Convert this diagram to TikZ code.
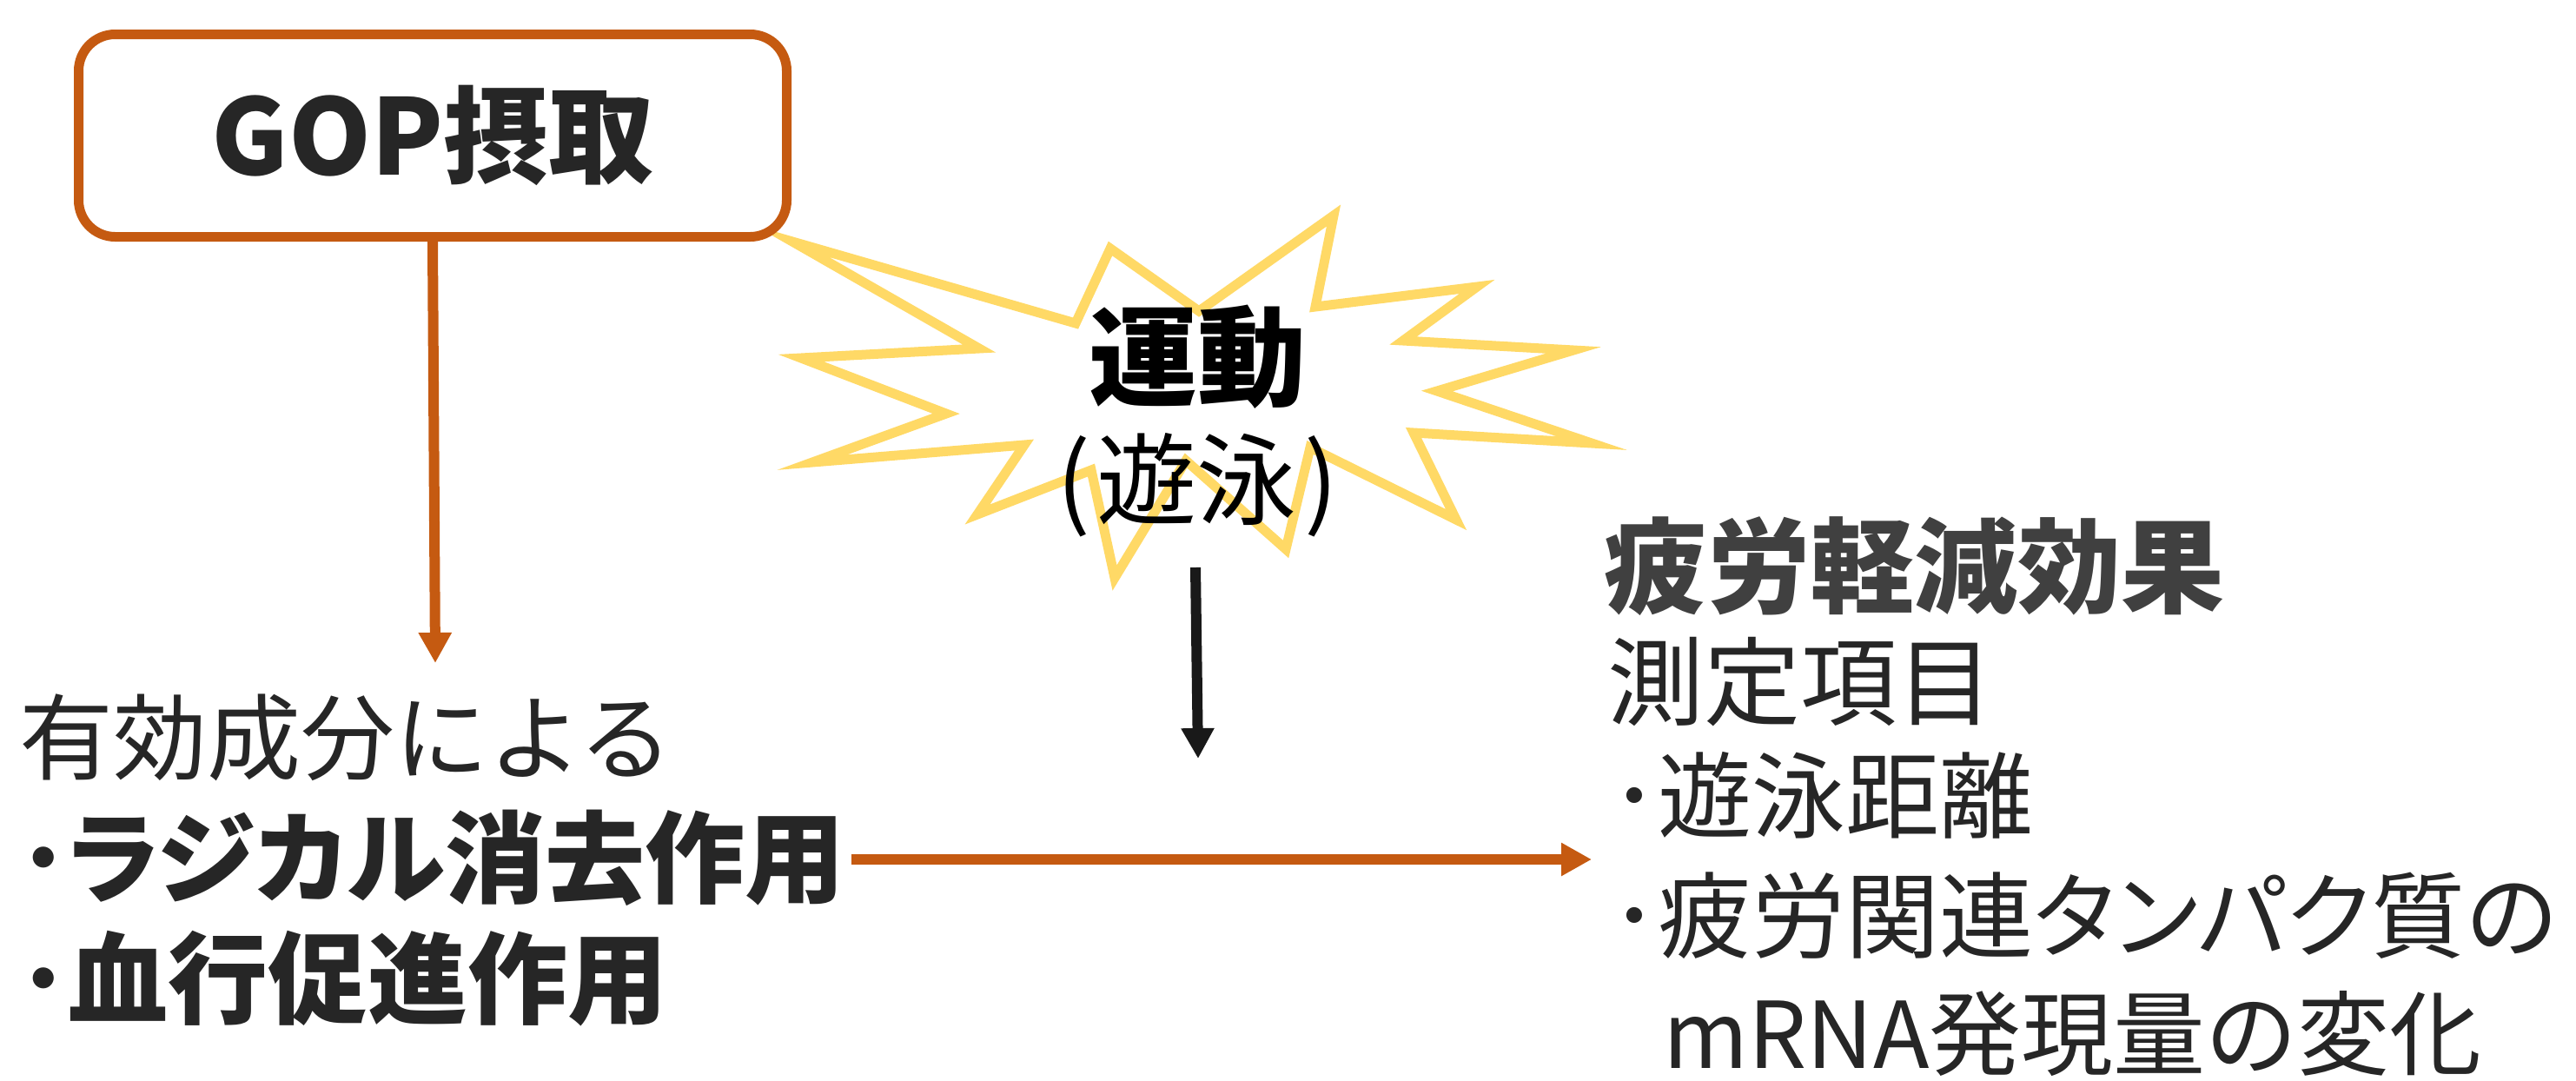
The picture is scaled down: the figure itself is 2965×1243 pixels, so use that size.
\documentclass[tikz,border=0pt]{standalone}
\usepackage{fontspec}
\setmainfont{Noto Sans CJK JP}
\usetikzlibrary{arrows.meta}
\definecolor{org}{HTML}{C55A11}
\definecolor{ylw}{HTML}{FFD966}
\definecolor{ink}{HTML}{262626}
\definecolor{gry}{HTML}{404040}
\tikzset{
  txt/.style={inner sep=0pt, outer sep=0pt, anchor=west, text=ink},
  fs/.style={font=\fontsize{#1}{#1}\selectfont},
  fsb/.style={font=\fontsize{#1}{#1}\selectfont\bfseries},
  gopbox/.style={draw=org, line width=11pt, fill=white, rounded corners=42pt,
    minimum width=815pt, minimum height=233pt, inner sep=0pt, text=ink},
  oarrow/.style={draw=org, line width=12pt, -{Triangle[length=35pt,width=36pt]}},
  karrow/.style={draw=black!90, line width=12pt, -{Triangle[length=35pt,width=36pt]}},
  burst/.style={draw=ylw, line width=11pt, fill=white, line join=miter, miter limit=30}
}
\newcommand{\paltkana}[1]{{\addfontfeatures{RawFeature=+palt}#1}}
\begin{document}
\begin{tikzpicture}[x=1pt,y=-1pt]
\useasboundingbox[fill=white] (0,0) rectangle (2965,1243);

% starburst
\draw[burst] (912,278) -- (1238,372) -- (1278,286) -- (1380,358) -- (1535,248)
  -- (1514,353) -- (1700,330) -- (1615,392) -- (1811,403) -- (1654,450)
  -- (1832,510) -- (1627,498) -- (1676,598) -- (1508,515) -- (1480,632)
  -- (1365,530) -- (1283,665) -- (1256,541) -- (1125,592) -- (1179,512)
  -- (935,532) -- (1089,476) -- (922,412) -- (1127,401) -- cycle;

% box
\node[gopbox, fsb=121] (gop) at (498,156) {\raisebox{-16pt}{GOP摂取}};

% starburst text
\node[txt, anchor=center, text=black, fsb=125] (undo) at (1378,411) {運動};
\node[txt, anchor=center, text=black, fs=115] (suiei) at (1378,558) {(\kern8pt 遊泳\kern8pt)};

% left text
\node[txt, fs=108] (yuko) at (22,849) {有効成分による};
\node[txt, fsb=115] (rad) at (21,987) {･\paltkana{ラジカル}消去作用};
\node[txt, fsb=115] (blood) at (21,1126) {･血行促進作用};

% right text
\node[txt, text=gry, fsb=119] (title) at (1846,652) {疲労軽減効果};
\node[txt, fs=111] (meas) at (1850,785) {測定項目};
\node[txt, fs=108] (m1) at (1854,915) {･遊泳距離};
\node[txt, fs=108] (m2) at (1854,1054) {･疲労関連\paltkana{タンパク}質の};
\node[txt, fs=106] (m3) at (1914,1190) {mRNA発現量の変化};

% connectors
\coordinate (v1) at (501,763);
\coordinate (b0) at (1376,653);
\coordinate (b1) at (1379,873);
\coordinate (h0) at (980,989);
\coordinate (h1) at (1832,989);
\draw[oarrow] (gop.south) -- (v1);
\draw[karrow] (b0) -- (b1);
\draw[oarrow] (h0) -- (h1);
\end{tikzpicture}
\end{document}
